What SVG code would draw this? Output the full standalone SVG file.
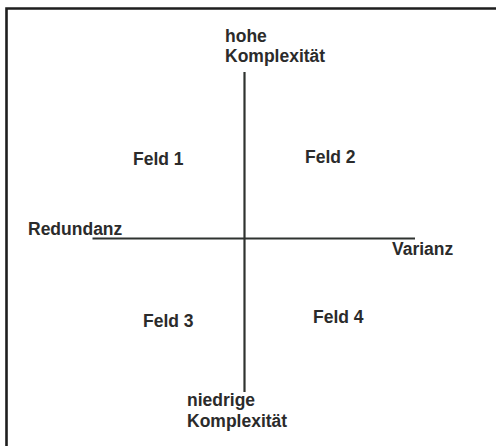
<svg xmlns="http://www.w3.org/2000/svg" width="496" height="446" viewBox="0 0 496 446">
  <style>
    .lbl { font-family: "Liberation Sans", Arial, sans-serif; font-weight: bold; font-size: 17.5px; fill: #2b2b2b; }
    .axis { stroke: #2f3330; stroke-width: 2.2; fill: none; }
    .frame { stroke: #1e1e1e; stroke-width: 2.6; fill: none; }
  </style>
  <rect x="0" y="0" width="496" height="446" fill="#ffffff"/>
  <path class="frame" d="M6.5,446 V8.5 H496"/>
  <g id="connectors">
    <line class="axis" x1="244.5" y1="72" x2="244.5" y2="392"/>
    <line class="axis" x1="92.5" y1="238.5" x2="415" y2="238.5"/>
  </g>
  <g id="node-hohe">
    <text class="lbl" x="225" y="42.2">hohe</text>
    <text class="lbl" x="225" y="62">Komplexität</text>
  </g>
  <g id="node-niedrige">
    <text class="lbl" x="187" y="406">niedrige</text>
    <text class="lbl" x="187" y="427">Komplexität</text>
  </g>
  <g id="node-redundanz">
    <text class="lbl" x="28" y="235">Redundanz</text>
  </g>
  <g id="node-varianz">
    <text class="lbl" x="392" y="255">Varianz</text>
  </g>
  <g id="node-feld1">
    <text class="lbl" x="133" y="165">Feld 1</text>
  </g>
  <g id="node-feld2">
    <text class="lbl" x="305" y="163">Feld 2</text>
  </g>
  <g id="node-feld3">
    <text class="lbl" x="143" y="327">Feld 3</text>
  </g>
  <g id="node-feld4">
    <text class="lbl" x="313" y="323">Feld 4</text>
  </g>
</svg>
